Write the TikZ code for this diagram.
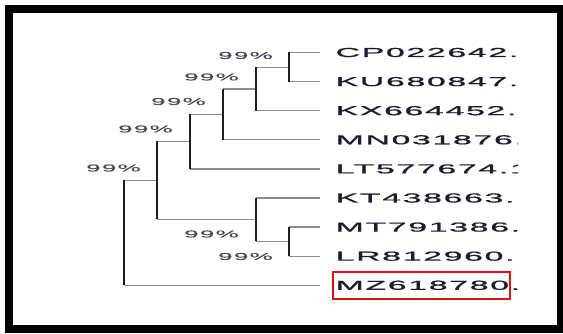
\documentclass[tikz,border=0pt]{standalone}
\usepackage{graphicx}
\usepackage{fontspec}
\newfontfamily\leaffont[LetterSpace=5,FakeBold=0.8]{Liberation Sans}
\newfontfamily\bootfont[LetterSpace=5,FakeBold=0.5]{Liberation Sans}
\newcommand\leafw[1]{\scalebox{2.6}[1]{#1}}
\newcommand\bootw[1]{\scalebox{2.6}[1]{#1}}
\definecolor{hcol}{HTML}{8C8C8C}
\definecolor{vcol}{HTML}{1E1E1E}
\definecolor{labcol}{HTML}{1C1C30}
\definecolor{bootcol}{HTML}{4A4A55}
\definecolor{boxred}{HTML}{E01010}
\tikzset{
  hb/.style={draw=hcol, line width=1.3pt},
  vb/.style={draw=vcol, line width=2.2pt},
  leaflab/.style={anchor=west, inner sep=0pt, text=labcol, font=\leaffont\fontsize{13}{13}\selectfont},
  bootlab/.style={anchor=east, inner sep=0pt, text=bootcol, font=\bootfont\fontsize{10}{10}\selectfont},
  frame/.style={draw=black, line width=8pt},
  hlbox/.style={draw=boxred, line width=2pt}
}
\begin{document}
\begin{tikzpicture}[x=1pt,y=-1pt]
\useasboundingbox (0,0) rectangle (563,334);
\fill[white] (0,0) rectangle (563,334);
% internal nodes
\coordinate (R) at (124.3,235);
\coordinate (E) at (156.7,180.5);
\coordinate (D) at (190,141.5);
\coordinate (C) at (223.3,114.3);
\coordinate (B) at (256,89);
\coordinate (A) at (289.3,67.2);
\coordinate (F) at (256,219.5);
\coordinate (G) at (289.3,241.2);
% leaf tips
\coordinate (lcp) at (320,52.5);
\coordinate (lku) at (320,81.6);
\coordinate (lkx) at (320,110.7);
\coordinate (lmn) at (320,139.8);
\coordinate (llt) at (320,168.9);
\coordinate (lkt) at (320,198);
\coordinate (lmt) at (320,227.1);
\coordinate (llr) at (320,256.2);
\coordinate (lmz) at (320,285.3);
% horizontal branches
\draw[hb] (A |- lcp) -- (lcp);
\draw[hb] (A |- lku) -- (lku);
\draw[hb] (B |- A) -- (A);
\draw[hb] (B |- lkx) -- (lkx);
\draw[hb] (C |- B) -- (B);
\draw[hb] (C |- lmn) -- (lmn);
\draw[hb] (D |- C) -- (C);
\draw[hb] (D |- llt) -- (llt);
\draw[hb] (E |- D) -- (D);
\draw[hb] (E |- F) -- (F);
\draw[hb] (F |- lkt) -- (lkt);
\draw[hb] (F |- G) -- (G);
\draw[hb] (G |- lmt) -- (lmt);
\draw[hb] (G |- llr) -- (llr);
\draw[hb] (R |- E) -- (E);
\draw[hb] (R |- lmz) -- (lmz);
% vertical branches
\draw[vb] (A |- lcp) -- (A |- lku);
\draw[vb] (B |- A) -- (B |- lkx);
\draw[vb] (C |- B) -- (C |- lmn);
\draw[vb] (D |- C) -- (D |- llt);
\draw[vb] (E |- D) -- (E |- F);
\draw[vb] (F |- lkt) -- (F |- G);
\draw[vb] (G |- lmt) -- (G |- llr);
\draw[vb] (R |- E) -- (R |- lmz);
% bootstrap values
\node[bootlab] (bA) at (273,55.5) {\bootw{99\%}};
\node[bootlab] (bB) at (239,77) {\bootw{99\%}};
\node[bootlab] (bC) at (206,101.5) {\bootw{99\%}};
\node[bootlab] (bD) at (173,129) {\bootw{99\%}};
\node[bootlab] (bE) at (141,168) {\bootw{99\%}};
\node[bootlab] (bF) at (239,234) {\bootw{99\%}};
\node[bootlab] (bG) at (273,256.5) {\bootw{99\%}};
% leaf labels (clipped at the right as in the source)
\begin{scope}
\clip (13,13) rectangle (518,325);
\node[leaflab] (tcp) at (335.5,52.5) {\leafw{CP022642.1}};
\node[leaflab] (tku) at (335.5,81.6) {\leafw{KU680847.1}};
\node[leaflab] (tkx) at (335.5,110.7) {\leafw{KX664452.1}};
\node[leaflab] (tmn) at (335.5,139.8) {\leafw{MN031876.1}};
\node[leaflab] (tlt) at (335.5,168.9) {\leafw{LT577674.1}};
\node[leaflab] (tkt) at (335.5,198) {\leafw{KT438663.1}};
\node[leaflab] (tmt) at (335.5,227.1) {\leafw{MT791386.1}};
\node[leaflab] (tlr) at (335.5,256.2) {\leafw{LR812960.1}};
\node[leaflab] (tmz) at (335.5,285.3) {\leafw{MZ618780.1}};
\end{scope}
\draw[hlbox] (333,272) rectangle (510,299);
% outer frame
\draw[frame] (9,9) rectangle (561,329);
\end{tikzpicture}
\end{document}
